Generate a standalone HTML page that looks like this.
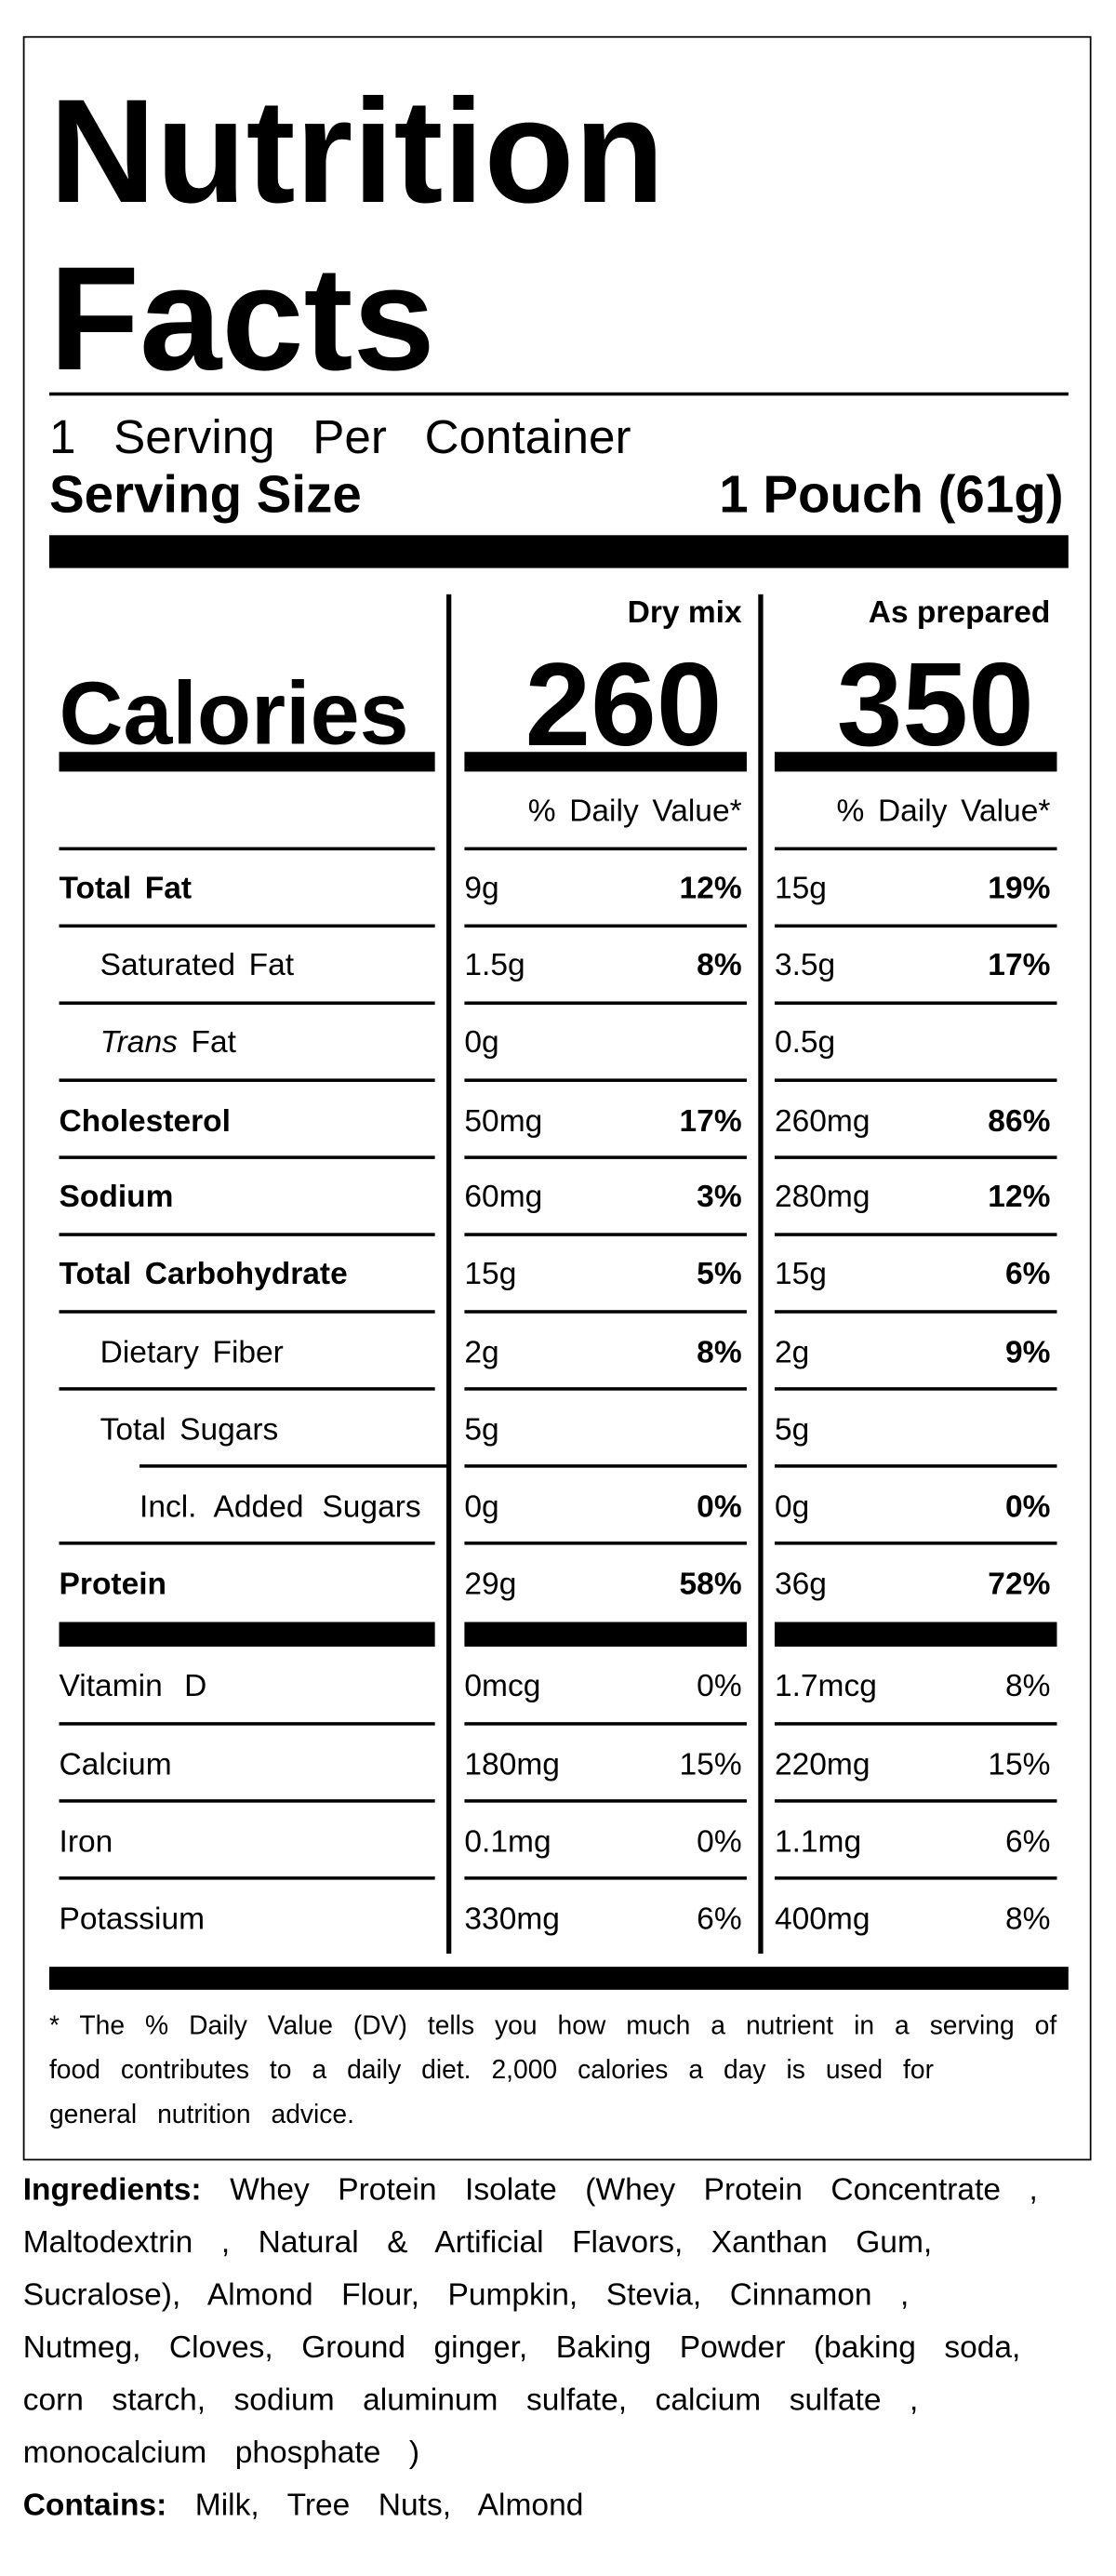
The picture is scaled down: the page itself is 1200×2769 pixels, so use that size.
<!DOCTYPE html>
<html><head><meta charset="utf-8"><style>
html,body{margin:0;padding:0;background:#fff;}
body{width:1200px;height:2768px;overflow:hidden;position:relative;}
#w{position:absolute;left:0;top:0;width:680px;height:1569px;transform:scale(1.76471);transform-origin:0 0;font-family:"Liberation Sans",Arial,sans-serif;color:#000;}
.a{position:absolute;white-space:nowrap;line-height:1;}
.b{font-weight:bold;}
.r{text-align:right;}
.bar{position:absolute;background:#000;}
.t{font-size:19px;word-spacing:3px;}
.ing{font-size:19px;word-spacing:12px;}
.fn{font-size:16px;word-spacing:8px;}
</style></head><body><div id="w">
<div style="position:absolute;left:14px;top:22px;width:649px;height:1292px;border:1.5px solid #000;"></div>
<div class="a b" style="left:30px;top:48px;font-size:90px;">Nutrition</div>
<div class="a b" style="left:30px;top:150px;font-size:90px;">Facts</div>
<div class="bar" style="left:30px;top:239px;width:621px;height:2px;"></div>
<div class="a" style="left:30px;top:253px;font-size:29px;word-spacing:15px;">1 Serving Per Container</div>
<div class="a b" style="left:30px;top:285px;font-size:32px;">Serving Size</div>
<div class="a b r" style="right:32px;top:285px;font-size:32px;">1 Pouch (61g)</div>
<div class="bar" style="left:30px;top:326px;width:621px;height:20px;"></div>
<div class="bar" style="left:272px;top:362px;width:3px;height:828px;"></div>
<div class="bar" style="left:462px;top:362px;width:3px;height:828px;"></div>
<div class="a b r" style="right:228px;top:364px;font-size:19px;">Dry mix</div>
<div class="a b r" style="right:40px;top:364px;font-size:19px;">As prepared</div>
<div class="a b" style="left:36px;top:408px;font-size:54px;">Calories</div>
<div class="a b r" style="right:240px;top:394px;font-size:72px;">260</div>
<div class="a b r" style="right:50px;top:394px;font-size:72px;">350</div>
<div class="bar" style="left:36px;top:458px;width:229px;height:12px;"></div>
<div class="bar" style="left:283px;top:458px;width:172px;height:12px;"></div>
<div class="bar" style="left:472px;top:458px;width:172px;height:12px;"></div>
<div class="a r t" style="right:228px;top:485px;">% Daily Value*</div>
<div class="a r t" style="right:40px;top:485px;">% Daily Value*</div>
<div class="bar" style="left:30px;top:1198px;width:621px;height:14px;"></div>
<div class="a fn" style="left:30px;top:1227px;">* The % Daily Value (DV) tells you how much a nutrient in a serving of</div>
<div class="a fn" style="left:30px;top:1254px;">food contributes to a daily diet. 2,000 calories a day is used for</div>
<div class="a fn" style="left:30px;top:1281px;">general nutrition advice.</div>
<div class="a ing" style="left:14px;top:1325px;"><b>Ingredients:</b> Whey Protein Isolate (Whey Protein Concentrate ,</div>
<div class="a ing" style="left:14px;top:1357px;">Maltodextrin , Natural &amp; Artificial Flavors, Xanthan Gum,</div>
<div class="a ing" style="left:14px;top:1389px;">Sucralose), Almond Flour, Pumpkin, Stevia, Cinnamon ,</div>
<div class="a ing" style="left:14px;top:1421px;">Nutmeg, Cloves, Ground ginger, Baking Powder (baking soda,</div>
<div class="a ing" style="left:14px;top:1453px;">corn starch, sodium aluminum sulfate, calcium sulfate ,</div>
<div class="a ing" style="left:14px;top:1485px;">monocalcium phosphate )</div>
<div class="a ing" style="left:14px;top:1517px;"><b>Contains:</b> Milk, Tree Nuts, Almond</div>

<div class="bar" style="left:36px;top:516px;width:229px;height:2px"></div><div class="bar" style="left:283px;top:516px;width:172px;height:2px"></div><div class="bar" style="left:472px;top:516px;width:172px;height:2px"></div>
<div class="a t b" style="left:36px;top:532px">Total Fat</div><div class="a t" style="left:283px;top:532px">9g</div><div class="a t b r" style="right:228px;top:532px">12%</div><div class="a t" style="left:472px;top:532px">15g</div><div class="a t b r" style="right:40px;top:532px">19%</div>
<div class="bar" style="left:36px;top:563px;width:229px;height:2px"></div><div class="bar" style="left:283px;top:563px;width:172px;height:2px"></div><div class="bar" style="left:472px;top:563px;width:172px;height:2px"></div>
<div class="a t" style="left:61px;top:579px">Saturated Fat</div><div class="a t" style="left:283px;top:579px">1.5g</div><div class="a t b r" style="right:228px;top:579px">8%</div><div class="a t" style="left:472px;top:579px">3.5g</div><div class="a t b r" style="right:40px;top:579px">17%</div>
<div class="bar" style="left:36px;top:610px;width:229px;height:2px"></div><div class="bar" style="left:283px;top:610px;width:172px;height:2px"></div><div class="bar" style="left:472px;top:610px;width:172px;height:2px"></div>
<div class="a t" style="left:61px;top:626px"><i>Trans</i> Fat</div><div class="a t" style="left:283px;top:626px">0g</div><div class="a t" style="left:472px;top:626px">0.5g</div>
<div class="bar" style="left:36px;top:657px;width:229px;height:2px"></div><div class="bar" style="left:283px;top:657px;width:172px;height:2px"></div><div class="bar" style="left:472px;top:657px;width:172px;height:2px"></div>
<div class="a t b" style="left:36px;top:674px">Cholesterol</div><div class="a t" style="left:283px;top:674px">50mg</div><div class="a t b r" style="right:228px;top:674px">17%</div><div class="a t" style="left:472px;top:674px">260mg</div><div class="a t b r" style="right:40px;top:674px">86%</div>
<div class="bar" style="left:36px;top:704px;width:229px;height:2px"></div><div class="bar" style="left:283px;top:704px;width:172px;height:2px"></div><div class="bar" style="left:472px;top:704px;width:172px;height:2px"></div>
<div class="a t b" style="left:36px;top:720px">Sodium</div><div class="a t" style="left:283px;top:720px">60mg</div><div class="a t b r" style="right:228px;top:720px">3%</div><div class="a t" style="left:472px;top:720px">280mg</div><div class="a t b r" style="right:40px;top:720px">12%</div>
<div class="bar" style="left:36px;top:751px;width:229px;height:2px"></div><div class="bar" style="left:283px;top:751px;width:172px;height:2px"></div><div class="bar" style="left:472px;top:751px;width:172px;height:2px"></div>
<div class="a t b" style="left:36px;top:767px">Total Carbohydrate</div><div class="a t" style="left:283px;top:767px">15g</div><div class="a t b r" style="right:228px;top:767px">5%</div><div class="a t" style="left:472px;top:767px">15g</div><div class="a t b r" style="right:40px;top:767px">6%</div>
<div class="bar" style="left:36px;top:798px;width:229px;height:2px"></div><div class="bar" style="left:283px;top:798px;width:172px;height:2px"></div><div class="bar" style="left:472px;top:798px;width:172px;height:2px"></div>
<div class="a t" style="left:61px;top:815px">Dietary Fiber</div><div class="a t" style="left:283px;top:815px">2g</div><div class="a t b r" style="right:228px;top:815px">8%</div><div class="a t" style="left:472px;top:815px">2g</div><div class="a t b r" style="right:40px;top:815px">9%</div>
<div class="bar" style="left:36px;top:845px;width:229px;height:2px"></div><div class="bar" style="left:283px;top:845px;width:172px;height:2px"></div><div class="bar" style="left:472px;top:845px;width:172px;height:2px"></div>
<div class="a t" style="left:61px;top:862px">Total Sugars</div><div class="a t" style="left:283px;top:862px">5g</div><div class="a t" style="left:472px;top:862px">5g</div>
<div class="bar" style="left:85px;top:892px;width:188px;height:2px"></div><div class="bar" style="left:283px;top:892px;width:172px;height:2px"></div><div class="bar" style="left:472px;top:892px;width:172px;height:2px"></div>
<div class="a t" style="left:85px;top:909px;word-spacing:6px">Incl. Added Sugars</div><div class="a t" style="left:283px;top:909px">0g</div><div class="a t b r" style="right:228px;top:909px">0%</div><div class="a t" style="left:472px;top:909px">0g</div><div class="a t b r" style="right:40px;top:909px">0%</div>
<div class="bar" style="left:36px;top:939px;width:229px;height:2px"></div><div class="bar" style="left:283px;top:939px;width:172px;height:2px"></div><div class="bar" style="left:472px;top:939px;width:172px;height:2px"></div>
<div class="a t b" style="left:36px;top:956px">Protein</div><div class="a t" style="left:283px;top:956px">29g</div><div class="a t b r" style="right:228px;top:956px">58%</div><div class="a t" style="left:472px;top:956px">36g</div><div class="a t b r" style="right:40px;top:956px">72%</div>
<div class="bar" style="left:36px;top:988px;width:229px;height:15px"></div><div class="bar" style="left:283px;top:988px;width:172px;height:15px"></div><div class="bar" style="left:472px;top:988px;width:172px;height:15px"></div>
<div class="a t" style="left:36px;top:1018px;word-spacing:8px">Vitamin D</div><div class="a t" style="left:283px;top:1018px">0mcg</div><div class="a t r" style="right:228px;top:1018px">0%</div><div class="a t" style="left:472px;top:1018px">1.7mcg</div><div class="a t r" style="right:40px;top:1018px">8%</div>
<div class="bar" style="left:36px;top:1049px;width:229px;height:2px"></div><div class="bar" style="left:283px;top:1049px;width:172px;height:2px"></div><div class="bar" style="left:472px;top:1049px;width:172px;height:2px"></div>
<div class="a t" style="left:36px;top:1066px">Calcium</div><div class="a t" style="left:283px;top:1066px">180mg</div><div class="a t r" style="right:228px;top:1066px">15%</div><div class="a t" style="left:472px;top:1066px">220mg</div><div class="a t r" style="right:40px;top:1066px">15%</div>
<div class="bar" style="left:36px;top:1096px;width:229px;height:2px"></div><div class="bar" style="left:283px;top:1096px;width:172px;height:2px"></div><div class="bar" style="left:472px;top:1096px;width:172px;height:2px"></div>
<div class="a t" style="left:36px;top:1113px">Iron</div><div class="a t" style="left:283px;top:1113px">0.1mg</div><div class="a t r" style="right:228px;top:1113px">0%</div><div class="a t" style="left:472px;top:1113px">1.1mg</div><div class="a t r" style="right:40px;top:1113px">6%</div>
<div class="bar" style="left:36px;top:1143px;width:229px;height:2px"></div><div class="bar" style="left:283px;top:1143px;width:172px;height:2px"></div><div class="bar" style="left:472px;top:1143px;width:172px;height:2px"></div>
<div class="a t" style="left:36px;top:1160px">Potassium</div><div class="a t" style="left:283px;top:1160px">330mg</div><div class="a t r" style="right:228px;top:1160px">6%</div><div class="a t" style="left:472px;top:1160px">400mg</div><div class="a t r" style="right:40px;top:1160px">8%</div>
</div></body></html>
